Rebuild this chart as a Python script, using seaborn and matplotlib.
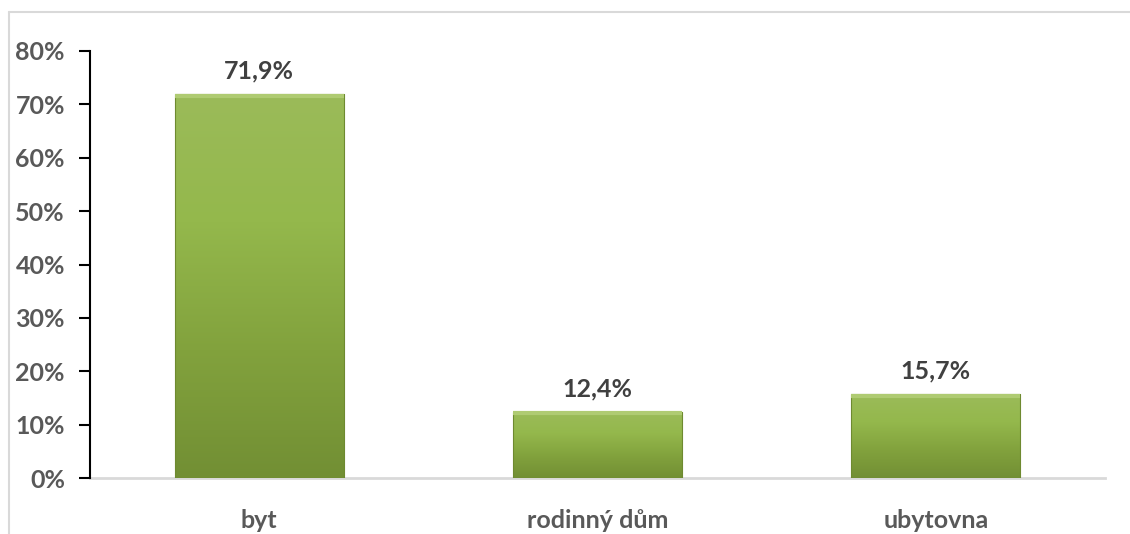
import numpy as np
import pandas as pd
import matplotlib
matplotlib.use("Agg")
import matplotlib.pyplot as plt
import seaborn as sns
from matplotlib.colors import LinearSegmentedColormap
from matplotlib.ticker import PercentFormatter

categories = ["byt", "rodinný dům", "ubytovna"]
values = [71.9, 12.4, 15.7]
labels = ["71,9%", "12,4%", "15,7%"]
yticks = [0, 10, 20, 30, 40, 50, 60, 70, 80]

sns.set_theme(style="white")
plt.rcParams['font.family'] = ['Lato', 'DejaVu Sans']

df = pd.DataFrame({"cat": categories, "val": values})

fig = plt.figure(figsize=(11.3, 5.34), dpi=100)
ax = fig.add_axes([90/1130, 1-478/534, (1105-90)/1130, (478-51)/534])

sns.barplot(data=df, x="cat", y="val", color="#8CB043", width=0.5, ax=ax,
            saturation=1, edgecolor="none")

ax.set_ylim(0, 80)
ax.set_xlim(-0.5, 2.5)
ax.set_yticks(yticks)
ax.yaxis.set_major_formatter(PercentFormatter(decimals=0))

# gradient fill: light at top, darker at bottom
cmap = LinearSegmentedColormap.from_list("g", ["#9BBB59", "#94B84C", "#82A23D", "#728F34"])
grad = np.linspace(0, 1, 256).reshape(-1, 1)
for p in list(ax.patches):
    x0, y0 = p.get_x(), p.get_y()
    w, h = p.get_width(), p.get_height()
    im = ax.imshow(grad, extent=[x0, x0 + w, y0, y0 + h], aspect="auto",
                   cmap=cmap, zorder=2, origin="upper")
    im.set_clip_path(p)
    p.set_facecolor("none")
    p.set_edgecolor("#6E8A30")
    p.set_linewidth(0.8)
    p.set_zorder(3)
    ax.plot([x0, x0 + w], [y0 + h - 0.3, y0 + h - 0.3], color="#AFCB72", lw=3,
            zorder=3, solid_capstyle="butt")

for i, (v, t) in enumerate(zip(values, labels)):
    ax.text(i, v + 2.2, t, ha="center", va="bottom", fontsize=18,
            fontweight="bold", color="#404040")

for s in ["top", "right"]:
    ax.spines[s].set_visible(False)
ax.spines["left"].set_color("black")
ax.spines["left"].set_linewidth(1.5)
ax.spines["bottom"].set_color("#D9D9D9")
ax.spines["bottom"].set_linewidth(2)
ax.spines["bottom"].set_zorder(1)

ax.tick_params(axis="y", left=True, length=8, width=1.5, color="black",
               labelsize=18, labelcolor="#595959", pad=10)
ax.tick_params(axis="x", bottom=False, labelsize=18, labelcolor="#595959", pad=16)
for lab in ax.get_xticklabels() + ax.get_yticklabels():
    lab.set_fontweight("bold")
ax.set_xlabel("")
ax.set_ylabel("")

# chart frame (partially visible)
fig.add_artist(plt.Line2D([9/1130, 1], [1-12/534, 1-12/534], color="#D9D9D9", lw=1.5,
                          transform=fig.transFigure))
fig.add_artist(plt.Line2D([9/1130, 9/1130], [0, 1-12/534], color="#D9D9D9", lw=1.5,
                          transform=fig.transFigure))

fig.savefig("out.png", dpi=100)
